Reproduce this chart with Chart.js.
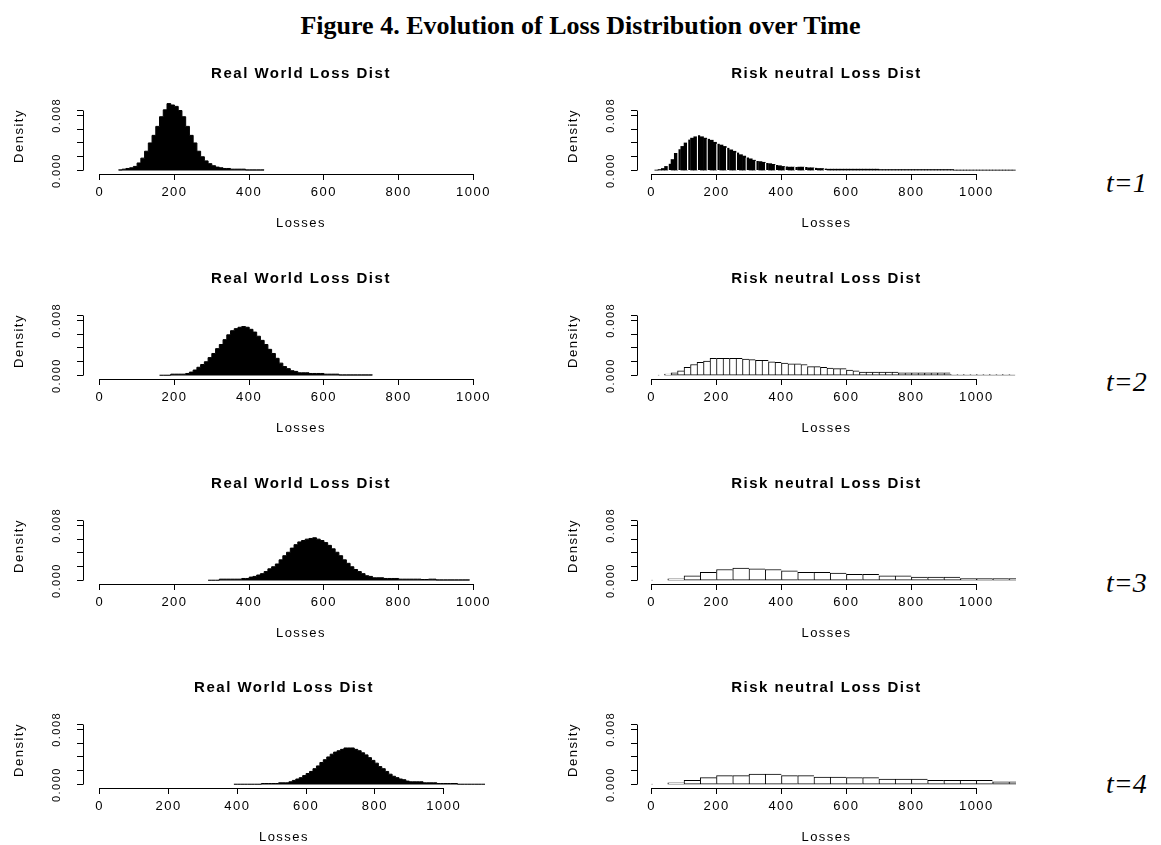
<!DOCTYPE html>
<html>
<head>
<meta charset="utf-8">
<script src="https://cdn.jsdelivr.net/npm/chart.js@4.4.1/dist/chart.umd.min.js"></script>
<style>
  body { margin: 0; background: #fff; }
  #figure { position: relative; width: 1161px; height: 845px; overflow: hidden; background: #fff; }
  #figure canvas { position: absolute; }
  #mainTitle { position: absolute; left: 0; top: 11px; width: 1161px; text-align: center;
               font: bold 26px "Liberation Serif", "Times New Roman", serif; line-height: 30px; color: #000; }
  .tlabel { position: absolute; left: 1106px; font: italic 28px "Liberation Serif", "Times New Roman", serif;
            line-height: 30px; color: #000; }
</style>
</head>
<body>
<div id="figure">
  <div id="mainTitle">Figure 4. Evolution of Loss Distribution over Time</div>
  <div class="tlabel" style="top:168px">t=1</div>
  <div class="tlabel" style="top:367px">t=2</div>
  <div class="tlabel" style="top:568px">t=3</div>
  <div class="tlabel" style="top:769px">t=4</div>
</div>
<script>
// axis ticks
const xTicks = [0, 200, 400, 600, 800, 1000];
const yTicks = [0, 0.002, 0.004, 0.006, 0.008, 0.0087];
const yTickLabels = ['0.000', '', '', '', '0.008', ''];

// real world histograms, bins of 10 starting at rwXStart
const rw1Start = 50;
const rw1Dens = [0.0001, 0.0002, 0.0003, 0.0004, 0.0006, 0.0011, 0.0018, 0.0028, 0.004, 0.0051,
  0.0064, 0.0078, 0.0088, 0.0097, 0.0095, 0.0093, 0.0087, 0.0078, 0.0064, 0.0051,
  0.004, 0.0028, 0.002, 0.0014, 0.001, 0.0007, 0.0005, 0.0004, 0.0003, 0.0003,
  0.0002, 0.0002, 0.0002, 0.0002, 0.0001, 0.0001, 0.0001, 0.0001, 0.0001];

const rw2Start = 160;
const rw2Dens = [0.00005, 0.00005, 0.00005, 0.0002, 0.0002, 0.0002, 0.0002, 0.0003, 0.0005, 0.0008,
  0.0012, 0.0016, 0.002, 0.0026, 0.0032, 0.0039, 0.0045, 0.0052, 0.0059, 0.0065,
  0.0068, 0.007, 0.0071, 0.007, 0.0067, 0.0063, 0.0057, 0.0051, 0.0045, 0.0038,
  0.0032, 0.0025, 0.0018, 0.0013, 0.001, 0.0007, 0.0006, 0.0004, 0.0004, 0.0004,
  0.0003, 0.0003, 0.0003, 0.0003, 0.0002, 0.0002, 0.0002, 0.0002, 0.0001, 0.0001,
  0.0001, 0.0001, 0.0001, 0.0001, 0.0001, 0.0001, 0.0001];

const rw3Start = 290;
const rw3Dens = [0.00005, 0.00005, 0.00005, 0.0002, 0.0002, 0.0002, 0.0002, 0.0002, 0.0002, 0.0003,
  0.0003, 0.0005, 0.0006, 0.0008, 0.001, 0.0013, 0.0017, 0.002, 0.0024, 0.003,
  0.0036, 0.0041, 0.0047, 0.0052, 0.0056, 0.0058, 0.006, 0.0061, 0.0062, 0.006,
  0.0058, 0.0055, 0.0051, 0.0046, 0.0041, 0.0036, 0.003, 0.0025, 0.002, 0.0016,
  0.0013, 0.001, 0.0007, 0.0006, 0.0004, 0.0004, 0.0004, 0.0003, 0.0003, 0.0003,
  0.0003, 0.0002, 0.0002, 0.0002, 0.0002, 0.0002, 0.0002, 0.00015, 0.00015, 0.0002,
  0.0002, 0.0001, 0.0001, 0.0001, 0.0001, 0.0001, 0.0001, 0.0001, 0.0001, 0.0001];

const rw4Start = 390;
const rw4Dens = [0.00005, 0.00005, 0.00005, 0.00005, 0.00005, 0.00005, 0.00005, 0.00005, 0.00015, 0.00015,
  0.00015, 0.00015, 0.00015, 0.00025, 0.00025, 0.00025, 0.0004, 0.0006, 0.0008, 0.001,
  0.0013, 0.0016, 0.0019, 0.0023, 0.0027, 0.0032, 0.0036, 0.004, 0.0044, 0.0047,
  0.0049, 0.0051, 0.0053, 0.0053, 0.0053, 0.0051, 0.0049, 0.0046, 0.0043, 0.0039,
  0.0035, 0.0031, 0.0026, 0.0023, 0.0019, 0.0015, 0.0012, 0.001, 0.0008, 0.0007,
  0.0005, 0.0004, 0.0004, 0.0004, 0.0004, 0.00025, 0.00025, 0.00025, 0.00025, 0.00015,
  0.00015, 0.00015, 0.00015, 0.00015, 0.00015, 0.00005, 0.00005, 0.00005, 0.00005, 0.00005,
  0.00005, 0.00005, 0.00005];

// risk neutral histograms
const rn1Start = 10, rn1Width = 10;
const rn1Dens = [0.00005, 0.00015, 0.0003, 0.0006, 0.001, 0.0016, 0.0025, 0.0031, 0.0035, 0.004,
  0.0045, 0.0047, 0.0049, 0.0051, 0.0049, 0.0047, 0.0046, 0.0044, 0.0041, 0.0039,
  0.0037, 0.0035, 0.0033, 0.003, 0.0028, 0.0026, 0.0023, 0.0021, 0.0019, 0.0017,
  0.0015, 0.0014, 0.0013, 0.0012, 0.0011, 0.001, 0.0009, 0.0008, 0.0007, 0.0006,
  0.0006, 0.0005, 0.0005, 0.0005, 0.0005, 0.0005, 0.0005, 0.0004, 0.0004, 0.0004,
  0.0003, 0.0003, 0.0003, 0.0002, 0.0002, 0.0002, 0.0002, 0.0002, 0.0002, 0.0002,
  0.0002, 0.0002, 0.0002, 0.0002, 0.0002, 0.0002, 0.0002, 0.0002, 0.0002, 0.00015,
  0.00015, 0.00015, 0.00015, 0.00015, 0.00015, 0.00015, 0.00015, 0.00015, 0.00015, 0.00015,
  0.00015, 0.00015, 0.00015, 0.00015, 0.00015, 0.00015, 0.00015, 0.00015, 0.00015, 0.00015,
  0.00015, 0.00015, 0.00005, 0.00005, 0.00005, 0.00005, 0.00005, 0.00005, 0.00005, 0.00005,
  0.00005, 0.00005, 0.00005, 0.00005, 0.00005, 0.00005, 0.00005, 0.00005, 0.00005, 0.00005,
  0.00005];

const rn2Start = 20, rn2Width = 20;
const rn2Dens = [0.00005, 0.0002, 0.0004, 0.0007, 0.0012, 0.0016, 0.0019, 0.0021, 0.0025, 0.0025,
  0.0025, 0.0025, 0.0025, 0.0024, 0.0023, 0.0022, 0.0022, 0.002, 0.0019, 0.0018,
  0.0017, 0.0017, 0.0016, 0.0013, 0.0013, 0.0012, 0.0011, 0.001, 0.001, 0.0008,
  0.0007, 0.0005, 0.0005, 0.0005, 0.0005, 0.0005, 0.0005, 0.0004, 0.0004, 0.0004,
  0.0004, 0.0004, 0.0004, 0.0004, 0.0004, 0.00015, 0.00015, 0.00015, 0.00015, 0.00015,
  0.00015, 0.00015, 0.00015, 0.00015, 0.00015];

const rn3Start = 0, rn3Width = 50;
const rn3Dens = [0.00005, 0.00025, 0.0007, 0.0012, 0.0016, 0.0018, 0.0017, 0.0016, 0.0014, 0.0012,
  0.0012, 0.0011, 0.0009, 0.0009, 0.0007, 0.0007, 0.0005, 0.0005, 0.0005, 0.0003,
  0.0003, 0.0003, 0.0003];

const rn4Start = 0, rn4Width = 50;
const rn4Dens = [0.00005, 0.00025, 0.0006, 0.001, 0.0013, 0.0013, 0.0015, 0.0015, 0.0013, 0.0013,
  0.0011, 0.0011, 0.001, 0.001, 0.0008, 0.0008, 0.0008, 0.0006, 0.0006, 0.0006,
  0.0006, 0.0004, 0.0004];

// layout of each panel (pixels)
const PX_PER_DENSITY = 6900;
const Y_MIN = -0.0005;
const CHART_H = 76, TITLE_H = 37, XAXIS_H = 57, YAXIS_W = 71;
const Y_MAX = Y_MIN + CHART_H / PX_PER_DENSITY;
const LETTER_SPACING = '1.5px';

Chart.defaults.font.family = '"Liberation Sans", Arial, sans-serif';
Chart.defaults.color = '#000';

// histogram -> points for a stepped area (left edges + closing edge)
function stepPoints(start, width, dens) {
  const pts = dens.map((d, i) => ({x: start + i * width, y: d}));
  pts.push({x: start + dens.length * width, y: dens[dens.length - 1]});
  return pts;
}
// histogram -> bar centres
function barPoints(start, width, dens) {
  return dens.map((d, i) => ({x: start + (i + 0.5) * width, y: d}));
}

// the old R device text is loosely spaced
const rSpacing = {
  id: 'rSpacing',
  beforeUpdate(chart) { chart.ctx.letterSpacing = LETTER_SPACING; },
  beforeDraw(chart) { chart.ctx.letterSpacing = LETTER_SPACING; }
};

// R style axis lines: only from first to last tick
const rAxisLines = {
  id: 'rAxisLines',
  afterDraw(chart) {
    const {ctx, chartArea, scales: {x, y}} = chart;
    const yb = Math.round(chartArea.bottom - 0.5) + 0.5;
    const xl = Math.round(chartArea.left - 0.5) + 0.5;
    ctx.save();
    ctx.strokeStyle = '#000';
    ctx.lineWidth = 1;
    ctx.beginPath();
    ctx.moveTo(x.getPixelForValue(xTicks[0]), yb);
    ctx.lineTo(x.getPixelForValue(xTicks[xTicks.length - 1]), yb);
    ctx.moveTo(xl, y.getPixelForValue(yTicks[0]));
    ctx.lineTo(xl, y.getPixelForValue(yTicks[yTicks.length - 1]));
    ctx.stroke();
    ctx.restore();
  }
};

const panels = [
  {title: 'Real World Loss Dist', base: 170.8, zeroX: 100, pxPerUnit: 0.3733, xMin: -44.8, xMax: 1122,
   kind: 'area', data: stepPoints(rw1Start, 10, rw1Dens)},
  {title: 'Risk neutral Loss Dist', base: 170.8, zeroX: 651.7, pxPerUnit: 0.325, xMin: -44.8, xMax: 1122,
   kind: 'blackbars', data: barPoints(rn1Start, rn1Width, rn1Dens)},
  {title: 'Real World Loss Dist', base: 375.7, zeroX: 100, pxPerUnit: 0.3733, xMin: -44.8, xMax: 1122,
   kind: 'area', data: stepPoints(rw2Start, 10, rw2Dens)},
  {title: 'Risk neutral Loss Dist', base: 375.7, zeroX: 651.7, pxPerUnit: 0.325, xMin: -44.8, xMax: 1122,
   kind: 'bars', data: barPoints(rn2Start, rn2Width, rn2Dens)},
  {title: 'Real World Loss Dist', base: 580.2, zeroX: 100, pxPerUnit: 0.3733, xMin: -44.8, xMax: 1122,
   kind: 'area', data: stepPoints(rw3Start, 10, rw3Dens)},
  {title: 'Risk neutral Loss Dist', base: 580.2, zeroX: 651.7, pxPerUnit: 0.325, xMin: -44.8, xMax: 1122,
   kind: 'bars', data: barPoints(rn3Start, rn3Width, rn3Dens)},
  {title: 'Real World Loss Dist', base: 785, zeroX: 100, pxPerUnit: 0.3437, xMin: -48.6, xMax: 1120,
   kind: 'area', data: stepPoints(rw4Start, 10, rw4Dens)},
  {title: 'Risk neutral Loss Dist', base: 785, zeroX: 651.7, pxPerUnit: 0.325, xMin: -44.8, xMax: 1122,
   kind: 'bars', data: barPoints(rn4Start, rn4Width, rn4Dens)}
];

function makeDataset(p) {
  if (p.kind === 'area') {
    return {type: 'line', data: p.data, stepped: true, fill: 'origin', borderColor: '#000',
            backgroundColor: '#000', borderWidth: 1, pointRadius: 0, tension: 0};
  }
  if (p.kind === 'blackbars') {
    // narrow black bins: the outline only shows through as a thin light line every third bin,
    // and not at all on the flat tail
    return {type: 'bar', data: p.data, backgroundColor: '#000', borderColor: '#fff',
            borderWidth: ctx => ({left: (ctx.dataIndex % 3 === 1 && ctx.raw.y > 0.00025) ? 1.3 : 0,
                                  top: 0, right: 0, bottom: 0}),
            borderSkipped: false, barPercentage: 1, categoryPercentage: 1};
  }
  return {type: 'bar', data: p.data, backgroundColor: '#fff', borderColor: '#000',
          borderWidth: {left: 1, top: 1, right: 0, bottom: 1}, borderSkipped: false,
          barPercentage: 1, categoryPercentage: 1};
}

function makePanel(p) {
  const chartLeft = p.zeroX + p.xMin * p.pxPerUnit;
  const chartW = (p.xMax - p.xMin) * p.pxPerUnit;
  const chartBottom = p.base - Y_MIN * PX_PER_DENSITY;
  const canvas = document.createElement('canvas');
  canvas.width = Math.round(YAXIS_W + chartW);
  canvas.height = TITLE_H + CHART_H + XAXIS_H;
  canvas.style.left = Math.round(chartLeft - YAXIS_W) + 'px';
  canvas.style.top = Math.round(chartBottom - CHART_H - TITLE_H) + 'px';
  document.getElementById('figure').appendChild(canvas);

  const tickGrid = {drawOnChartArea: false, drawTicks: true, tickLength: 6, offset: false,
                    color: '#000', lineWidth: 1};

  new Chart(canvas, {
    type: p.kind === 'area' ? 'line' : 'bar',
    data: {datasets: [makeDataset(p)]},
    plugins: [rSpacing, rAxisLines],
    options: {
      responsive: false,
      animation: false,
      layout: {padding: 0},
      plugins: {
        legend: {display: false},
        tooltip: {enabled: false},
        title: {display: true, text: p.title, fullSize: false, color: '#000',
                font: {size: 15, weight: 'bold'}, padding: {top: 4, bottom: 15}}
      },
      scales: {
        x: {
          type: 'linear', min: p.xMin, max: p.xMax, offset: false,
          afterBuildTicks: s => { s.ticks = xTicks.map(v => ({value: v})); },
          afterFit: s => { s.height = XAXIS_H; },
          grid: tickGrid,
          border: {display: false},
          ticks: {callback: v => String(v), padding: 4.75, maxRotation: 0, autoSkip: false,
                  color: '#000', font: {size: 13}},
          title: {display: true, text: 'Losses', color: '#000', font: {size: 13}, padding: 0}
        },
        y: {
          type: 'linear', min: Y_MIN, max: Y_MAX,
          afterBuildTicks: s => { s.ticks = yTicks.map(v => ({value: v})); },
          afterFit: s => { s.width = YAXIS_W; },
          grid: tickGrid,
          border: {display: false},
          ticks: {callback: (v, i) => yTickLabels[i], minRotation: 90, maxRotation: 90,
                  crossAlign: 'center', padding: 2.8, autoSkip: false, color: '#000', font: {size: 11}},
          title: {display: true, text: 'Density', color: '#000', font: {size: 13}, padding: 0}
        }
      }
    }
  });
}

panels.forEach(makePanel);
</script>
</body>
</html>
